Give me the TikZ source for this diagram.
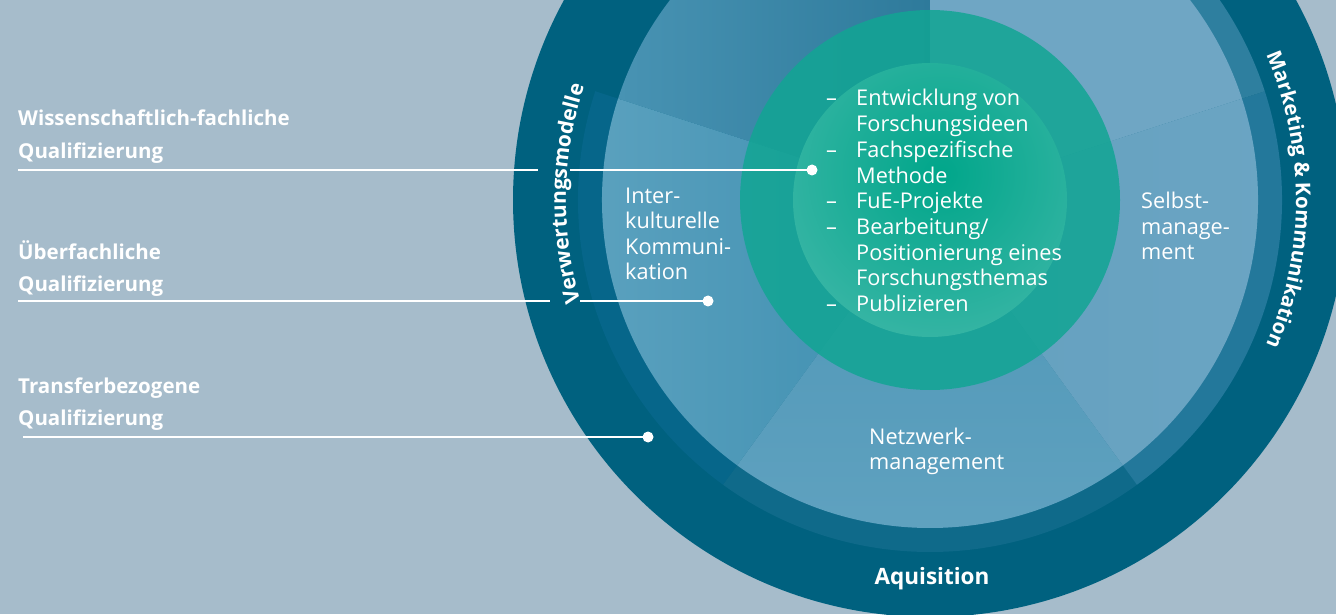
\documentclass[tikz,border=0pt]{standalone}
\usepackage{fontspec}
\setmainfont{Open Sans}
\definecolor{bg}{HTML}{A6BCCB}
\definecolor{outerc}{HTML}{00617F}
\definecolor{rA}{HTML}{06668A}
\definecolor{rB}{HTML}{0F6A8A}
\definecolor{rC}{HTML}{23789B}
\definecolor{rD}{HTML}{2E7F9F}
\definecolor{sAl}{HTML}{4893B3}
\definecolor{sAr}{HTML}{2E7A9B}
\definecolor{sBl}{HTML}{5CA2BF}
\definecolor{sBr}{HTML}{3D8EB0}
\definecolor{sCt}{HTML}{4E96B6}
\definecolor{sCb}{HTML}{60A2C0}
\definecolor{sDl}{HTML}{64A0BF}
\definecolor{sDr}{HTML}{6BA5C3}
\definecolor{sE}{HTML}{6FA6C4}
\definecolor{gring}{HTML}{12A594}
\definecolor{gin}{HTML}{00A68A}
\definecolor{gout}{HTML}{55BDB3}
\newlength\rtw \newlength\rcum \newlength\rcw
\newcommand\mysector[4]{\fill[#1] (C) -- ++(#2:#4) arc[start angle=#2, end angle=#3, radius=#4] -- cycle;}
\newcommand\myshsector[4]{\shade[#1] (C) -- ++(#2:#4) arc[start angle=#2, end angle=#3, radius=#4] -- cycle;}
% angles computed outside the picture: #1 prefix, #2 radius, #3 centre angle, #4 font, #5 characters
\newcommand\prearc[5]{%
  \global\rtw=0pt
  \foreach \c in {#5}{\settowidth\rcw{#4\c}\global\advance\rtw by\rcw}%
  \global\rcum=0pt
  \foreach \c [count=\i] in {#5}{%
    \settowidth\rcw{#4\c}%
    \pgfmathsetmacro\ang{#3+(0.5*\rtw-\rcum-0.5*\rcw)/#2*57.29578}%
    \expandafter\xdef\csname #1ang\i\endcsname{\ang}%
    \global\advance\rcum by\rcw
  }%
}
\newcommand\vmfont{\fontsize{21}{25}\selectfont\bfseries}
\newcommand\mkfont{\fontsize{20.5}{25}\selectfont\bfseries}
\tikzset{
  lbl/.style={text=white, inner sep=0pt, anchor=base west, font=\fontsize{21.7}{25}\selectfont},
  lblb/.style={lbl, font=\fontsize{20.5}{25}\selectfont\bfseries},
  conn/.style={draw=white, line width=1.4pt},
  dotnode/.style={circle, fill=white, inner sep=0pt, minimum size=11pt},
  rchar/.style={text=white, inner sep=0pt, anchor=base}
}
\begin{document}
\prearc{vm}{364}{179}{\vmfont}{V,e,r,w,e,r,t,u,n,g,s,m,o,d,e,l,l,e}%
\prearc{mk}{366}{0}{\mkfont}{M,a,r,k,e,t,i,n,g,{\ },\&,{\ },K,o,m,m,u,n,i,k,a,t,i,o,n}%
\begin{tikzpicture}[x=1pt,y=1pt]
\useasboundingbox (0,0) rectangle (1336,614);
\fill[bg] (0,0) rectangle (1336,614);
\coordinate (C) at (930,414);
% outer ring
\fill[outerc] (C) circle[radius=417];
% second ring segments
\mysector{rA}{162}{234}{352}
\mysector{rB}{234}{306}{352}
\mysector{rC}{-54}{18}{352}
\mysector{rD}{18}{90}{352}
% main segments
\myshsector{left color=sAl, right color=sAr}{90}{162}{328}
\myshsector{left color=sBl, right color=sBr}{162}{234}{328}
\myshsector{top color=sCt, bottom color=sCb}{234}{306}{328}
\myshsector{left color=sDl, right color=sDr}{-54}{18}{328}
\mysector{sE}{18}{90}{328}
% green circles
\fill[gring, opacity=0.86] (C) circle[radius=190];
\begin{scope}
  \clip (C) circle[radius=137];
  \shade[inner color=gin, outer color=gout] (940,440) circle[radius=265];
\end{scope}
% ring labels
\foreach \c [count=\i] in {V,e,r,w,e,r,t,u,n,g,s,m,o,d,e,l,l,e}{
  \pgfmathsetmacro\a{\csname vmang\i\endcsname}
  \node[rchar, font=\vmfont, rotate=\a-90] (vm\i) at ([shift={(\a:364)}]C) {\c};
}
\foreach \c [count=\i] in {M,a,r,k,e,t,i,n,g,{\ },\&,{\ },K,o,m,m,u,n,i,k,a,t,i,o,n}{
  \pgfmathsetmacro\a{\csname mkang\i\endcsname}
  \node[rchar, font=\mkfont, rotate=\a-90] (mk\i) at ([shift={(\a:366)}]C) {\c};
}
\node[text=white, inner sep=0pt, anchor=base, font=\fontsize{22.5}{25}\selectfont\bfseries] (aq) at (932,30) {Aquisition};
% left labels
\node[lblb] (t1a) at (18,488) {Wissenschaftlich-fachliche};
\node[lblb] (t1b) at (18,455) {Qualifizierung};
\node[lblb] (t2a) at (18,354) {Überfachliche};
\node[lblb] (t2b) at (18,322) {Qualifizierung};
\node[lblb] (t3a) at (18,221) {Transferbezogene};
\node[lblb] (t3b) at (18,189) {Qualifizierung};
% connectors
\coordinate (l1a) at (18,444);
\coordinate (l1b) at (538,444);
\coordinate (l1c) at (570,444);
\node[dotnode] (d1) at (812,444) {};
\draw[conn] (l1a) -- (l1b);
\draw[conn] (l1c) -- (d1.center);
\coordinate (l2a) at (18,313);
\coordinate (l2b) at (550,313);
\coordinate (l2c) at (580,313);
\node[dotnode] (d2) at (708,313) {};
\draw[conn] (l2a) -- (l2b);
\draw[conn] (l2c) -- (d2.center);
\coordinate (l3a) at (23,177);
\node[dotnode] (d3) at (648,177) {};
\draw[conn] (l3a) -- (d3.center);
% inner list
\node[lbl] (i1) at (856,508) {Entwicklung von};
\node[lbl] (i2) at (856,482.3) {Forschungsideen};
\node[lbl] (i3) at (856,456.6) {Fachspezifische};
\node[lbl] (i4) at (856,430.9) {Methode};
\node[lbl] (i5) at (856,405.2) {FuE-Projekte};
\node[lbl] (i6) at (856,379.5) {Bearbeitung/};
\node[lbl] (i7) at (856,353.8) {Positionierung eines};
\node[lbl] (i8) at (856,328.1) {Forschungsthemas};
\node[lbl] (i9) at (856,302.4) {Publizieren};
\node[lbl] (b1) at (826,508) {–};
\node[lbl] (b3) at (826,456.6) {–};
\node[lbl] (b5) at (826,405.2) {–};
\node[lbl] (b6) at (826,379.5) {–};
\node[lbl] (b9) at (826,302.4) {–};
% segment labels
\node[lbl] (k1) at (625,410) {Inter-};
\node[lbl] (k2) at (625,385) {kulturelle};
\node[lbl] (k3) at (625,359) {Kommuni-};
\node[lbl] (k4) at (625,334) {kation};
\node[lbl] (s1) at (1141,405) {Selbst-};
\node[lbl] (s2) at (1141,379) {manage-};
\node[lbl] (s3) at (1141,354) {ment};
\node[lbl] (n1) at (869,170) {Netzwerk-};
\node[lbl] (n2) at (869,145) {management};
\end{tikzpicture}
\end{document}
